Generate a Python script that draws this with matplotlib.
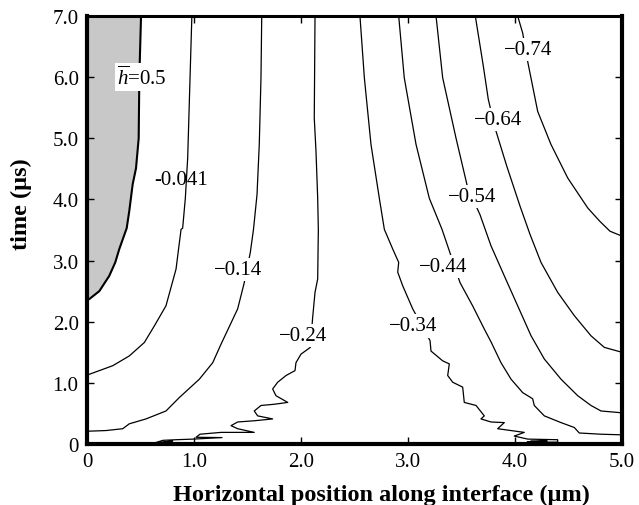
import matplotlib.pyplot as plt

plt.rcParams['font.family'] = ['Liberation Serif', 'DejaVu Serif']
plt.rcParams['mathtext.fontset'] = 'custom'
plt.rcParams['mathtext.rm'] = 'Liberation Serif'
plt.rcParams['mathtext.it'] = 'Liberation Serif:italic'

# contour lines of h, traced as (position um, time us)
h05_x = [0.505, 0.489, 0.483, 0.458, 0.427, 0.395, 0.371, 0.302, 0.264, 0.208, 0.115, 0.021, 0.0]
h05_t = [7.0, 5.99, 5.00, 4.51, 4.25, 3.81, 3.53, 3.19, 2.97, 2.75, 2.50, 2.37, 2.36]

c041_x = [0.98, 0.963, 0.941, 0.919, 0.894, 0.879, 0.832, 0.738, 0.629, 0.536, 0.395, 0.240, 0.021, 0.0]
c041_t = [7.0, 5.99, 4.68, 4.02, 3.53, 3.51, 2.86, 2.26, 1.93, 1.66, 1.44, 1.28, 1.14, 1.13]

c14_x = [1.633, 1.626, 1.610, 1.589, 1.556, 1.526, 1.47, 1.408, 1.252, 1.175, 1.050,
         0.863, 0.738, 0.551, 0.395, 0.334, 0.178, 0.021, 0.0]
c14_t = [7.0, 5.99, 4.90, 4.08, 3.51, 3.13, 2.64, 2.21, 1.63, 1.33, 1.06,
         0.76, 0.54, 0.41, 0.33, 0.25, 0.22, 0.21, 0.21]

c24_x = [2.131, 2.124, 2.140, 2.156, 2.162, 2.156, 2.131, 2.109, 2.087, 2.0, 1.953,
         1.944, 1.860, 1.782, 1.735, 1.766, 1.876, 1.750, 1.626, 1.563, 1.595, 1.735,
         1.563, 1.408, 1.346, 1.408, 1.563, 1.252, 1.056, 1.019, 1.262, 0.991, 0.832,
         0.710, 0.645, 0.70, 0.80, 0.66]
c24_t = [7.0, 5.33, 4.79, 4.02, 3.51, 2.70, 2.48, 2.07, 1.58, 1.47, 1.33,
         1.20, 1.12, 1.01, 0.90, 0.79, 0.68, 0.65, 0.63, 0.54, 0.46, 0.41,
         0.38, 0.36, 0.30, 0.25, 0.19, 0.19, 0.16, 0.11, 0.105, 0.08, 0.07,
         0.06, 0.025, 0.03, 0.05, 0.01]

c34_x = [2.551, 2.592, 2.654, 2.732, 2.779, 2.857, 2.913, 2.904, 2.950, 3.044, 3.206,
         3.215, 3.324, 3.386, 3.371, 3.418, 3.511, 3.526, 3.636, 3.713, 3.682, 3.776,
         3.900, 3.838, 4.087, 3.993, 4.119, 4.399, 4.399, 4.112, 4.30, 4.15]
c34_t = [7.0, 5.99, 4.90, 4.02, 3.51, 3.19, 2.97, 2.81, 2.59, 2.21, 1.69,
         1.52, 1.36, 1.31, 1.12, 1.01, 0.93, 0.68, 0.63, 0.46, 0.41, 0.36,
         0.35, 0.25, 0.19, 0.13, 0.08, 0.07, 0.03, 0.03, 0.05, 0.05]

c44_x = [2.913, 2.965, 3.075, 3.199, 3.318, 3.386, 3.486, 3.604, 3.713, 3.776, 3.869,
         3.963, 4.072, 4.165, 4.180, 4.274, 4.430, 4.554, 4.601, 4.804, 5.0]
c44_t = [7.0, 5.99, 4.90, 4.02, 3.51, 3.16, 2.64, 2.26, 1.88, 1.67, 1.33,
         1.06, 0.84, 0.74, 0.63, 0.46, 0.35, 0.27, 0.18, 0.16, 0.15]

c54_x = [3.262, 3.324, 3.449, 3.558, 3.673, 3.776, 3.900, 4.025, 4.150, 4.274, 4.430,
         4.586, 4.710, 4.804, 5.0]
c54_t = [7.0, 5.99, 5.00, 4.19, 3.75, 3.24, 2.75, 2.26, 1.77, 1.39, 1.06,
         0.79, 0.63, 0.54, 0.51]

c64_x = [3.629, 3.704, 3.750, 3.813, 3.922, 4.047, 4.140, 4.243, 4.399, 4.554, 4.710, 4.835, 5.0]
c64_t = [7.0, 6.18, 5.64, 5.17, 4.55, 3.89, 3.43, 2.97, 2.48, 2.10, 1.77, 1.58, 1.50]

c74_x = [4.025, 4.072, 4.118, 4.212, 4.336, 4.493, 4.680, 4.794, 4.888, 5.0]
c74_t = [7.0, 6.72, 6.26, 5.44, 4.90, 4.35, 3.86, 3.64, 3.48, 3.40]

levels = ['-0.041', '\u22120.14', '\u22120.24', '\u22120.34', '\u22120.44',
          '\u22120.54', '\u22120.64', '\u22120.74']
lines_x = [c041_x, c14_x, c24_x, c34_x, c44_x, c54_x, c64_x, c74_x]
lines_t = [c041_t, c14_t, c24_t, c34_t, c44_t, c54_t, c64_t, c74_t]

# where each level label sits on its line
label_pos = [(0.883, 4.32), (1.411, 2.86), (2.023, 1.77), (3.044, 1.93),
             (3.324, 2.90), (3.595, 4.05), (3.844, 5.31), (4.121, 6.45)]

x_ticks = [0, 1, 2, 3, 4, 5]
x_ticklabels = ['0', '1.0', '2.0', '3.0', '4.0', '5.0']
y_ticks = [0, 1, 2, 3, 4, 5, 6, 7]
y_ticklabels = ['0', '1.0', '2.0', '3.0', '4.0', '5.0', '6.0', '7.0']

fig = plt.figure(figsize=(6.39, 5.06), dpi=100)
ax = fig.add_axes([87 / 639, 61 / 506, 535 / 639, 428 / 506])

ax.fill_betweenx(h05_t, 0, h05_x, color='#c8c8c8', lw=0)
ax.plot(h05_x, h05_t, color='black', lw=1.5, zorder=2)

for xs, ts in zip(lines_x, lines_t):
    ax.plot(xs, ts, color='black', lw=0.9, zorder=2)

for lab, (lx, lt) in zip(levels, label_pos):
    box = None if lab == '-0.041' else dict(facecolor='white', edgecolor='none', pad=1.5)
    ax.text(lx, lt, lab, fontsize=15, ha='center', va='center', zorder=3, bbox=box)

ax.text(0.514, 6.0, r'$\overline{h}$=0.5', fontsize=15, ha='center', va='center',
        zorder=3, bbox=dict(facecolor='white', edgecolor='none', pad=1.5))

ax.set_xlim(0, 5)
ax.set_ylim(0, 7)
ax.set_xticks(x_ticks)
ax.set_xticklabels(x_ticklabels)
ax.set_yticks(y_ticks)
ax.set_yticklabels(y_ticklabels)
ax.tick_params(direction='in', length=5, width=1, top=True, right=True,
               labelsize=15, pad=6)

for side in ['left', 'bottom', 'right']:
    ax.spines[side].set_linewidth(3)
ax.spines['top'].set_linewidth(2.2)

ax.set_xlabel('Horizontal position along interface (\u00b5m)', fontsize=17.5, fontweight='bold')
ax.set_ylabel('time (\u00b5s)', fontsize=17.5, fontweight='bold')
ax.xaxis.set_label_coords(0.551, -0.093)
ax.yaxis.set_label_coords(-0.103, 0.563)

fig.savefig('out.png', dpi=100)
